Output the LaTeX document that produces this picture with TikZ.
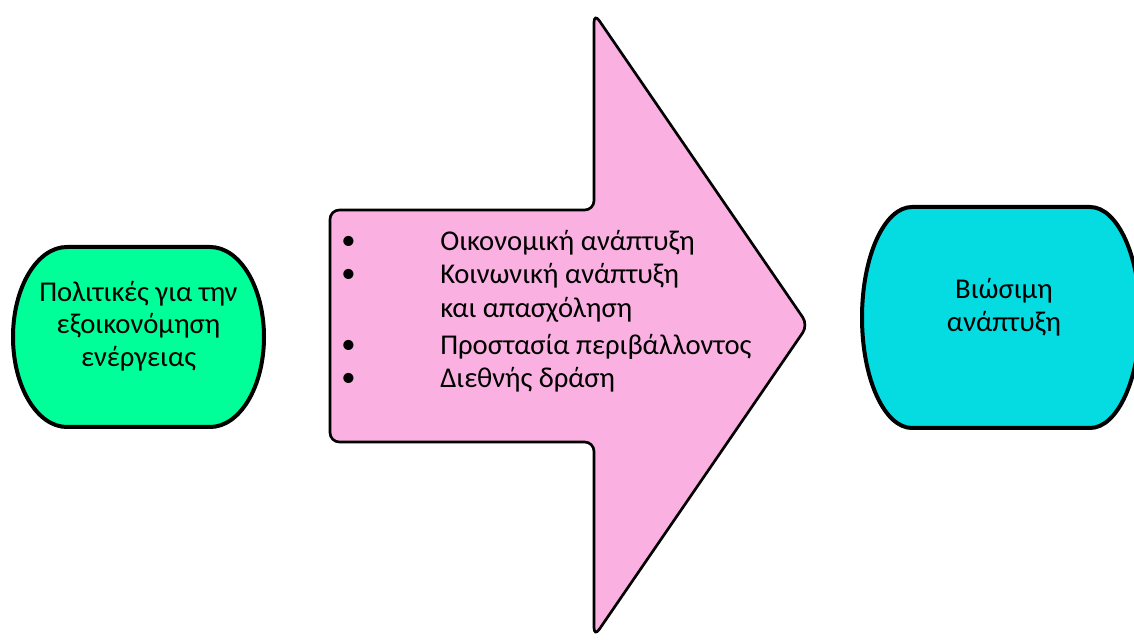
\documentclass[tikz,border=0pt]{standalone}
\usepackage{fontspec}
\setmainfont{Carlito}
\usetikzlibrary{positioning}
\definecolor{policygreen}{RGB}{0,255,153}
\definecolor{arrowpink}{RGB}{250,176,224}
\definecolor{goalcyan}{RGB}{4,220,226}
\tikzset{
  endcap/.style={draw=black, line width=3pt},
  bigarrow/.style={draw=black, line width=2pt, fill=arrowpink, rounded corners=7pt},
  label text/.style={font=\fontsize{21.5}{24.5}\selectfont, align=center, inner sep=0pt},
  list text/.style={font=\fontsize{21.5}{24.5}\selectfont, anchor=west, inner sep=0pt},
}

\begin{document}
\begin{tikzpicture}[x=0.75pt,y=0.75pt]
          \useasboundingbox (0,0) rectangle (1134,639);
          % Policies (left)
          \draw[endcap, fill=policygreen] (67,392) -- (210,392) arc[start angle=90, end angle=-90, x radius=54, y radius=90] -- (67,212) arc[start angle=270, end angle=90, x radius=54, y radius=90] -- cycle;
          \node[label text] (policy) at (138.5,313) {Πολιτικές για την\\εξοικονόμηση\\ενέργειας};
          % Big arrow
          \draw[bigarrow] (330,313) -- (330,429) -- (594,429) -- (594,626) -- (808,314) -- (594,2) -- (594,197) -- (330,197) -- cycle;
          \node[list text] (b1) at (341,396) {\textbullet};
          \node[list text] (b2) at (341,363) {\textbullet};
          \node[list text] (b4) at (341,292) {\textbullet};
          \node[list text] (b5) at (341,259) {\textbullet};
          \node[list text] (l1) at (440,396) {Οικονομική ανάπτυξη};
          \node[list text] (l2) at (440,363) {Κοινωνική ανάπτυξη};
          \node[list text] (l3) at (440,329) {και απασχόληση};
          \node[list text] (l4) at (440,292) {Προστασία περιβάλλοντος};
          \node[list text] (l5) at (440,259) {Διεθνής δράση};
          % Sustainable development (right)
          \draw[endcap, fill=goalcyan] (912,432) -- (1090,432) arc[start angle=90, end angle=-90, x radius=50, y radius=110.5] -- (912,211) arc[start angle=270, end angle=90, x radius=50, y radius=110.5] -- cycle;
          \node[label text] (goal) at (1004,331.5) {Βιώσιμη\\ανάπτυξη};
        \end{tikzpicture}
\end{document}
